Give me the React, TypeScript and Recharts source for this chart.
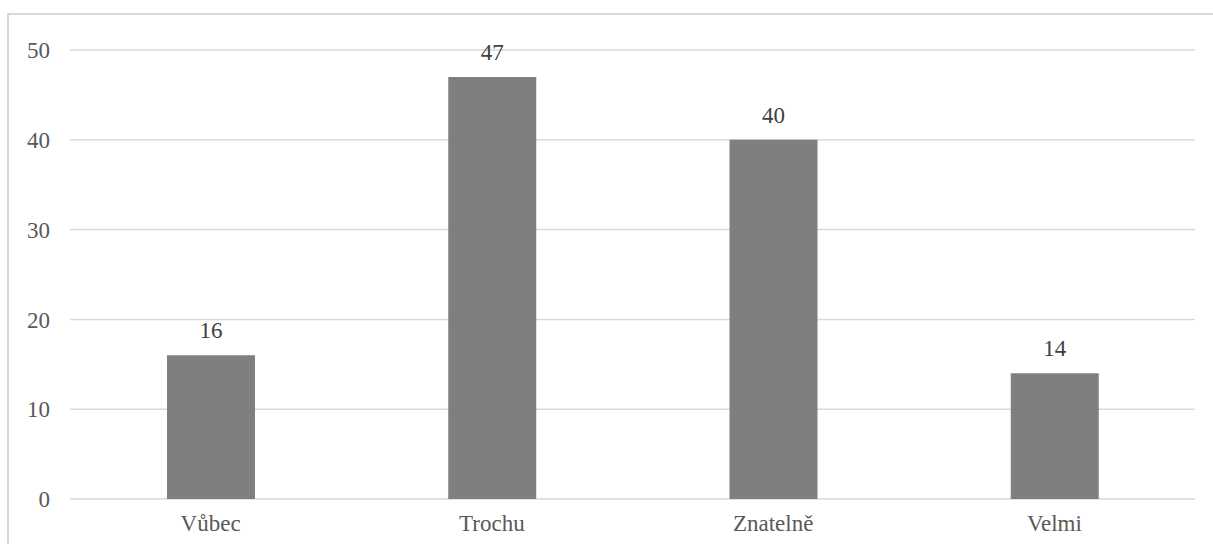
import React from 'react';
import { BarChart, Bar, XAxis, YAxis, CartesianGrid, LabelList } from 'recharts';

const categories = ['Vůbec', 'Trochu', 'Znatelně', 'Velmi'];
const counts = [16, 47, 40, 14];
const yTicks = [0, 10, 20, 30, 40, 50];

const data = categories.map((name, i) => ({ name, value: counts[i] }));

const FONT = 'Liberation Serif';

const App: React.FC = () => {
  return (
    <div style={{ position: 'absolute', left: 0, top: 0, width: 1213, height: 544, overflow: 'hidden', background: '#fff' }}>
      <BarChart width={1213} height={544} data={data} margin={{ top: 50, right: 18, bottom: 0, left: 10 }}>
        <CartesianGrid vertical={false} stroke="#d9d9d9" strokeWidth={1.5} />
        <XAxis
          dataKey="name"
          height={45}
          tickSize={0}
          tickMargin={16}
          axisLine={false}
          tickLine={false}
          tick={{ fill: '#595959', fontSize: 23, fontFamily: FONT }}
        />
        <YAxis
          width={60}
          domain={[0, 50]}
          ticks={yTicks}
          tickSize={0}
          tickMargin={20}
          axisLine={false}
          tickLine={false}
          tick={{ fill: '#595959', fontSize: 23, fontFamily: FONT }}
        />
        <Bar dataKey="value" fill="#7f7f7f" barSize={88} isAnimationActive={false}>
          <LabelList dataKey="value" position="top" offset={17} fill="#404040" fontSize={23} fontFamily={FONT} />
        </Bar>
      </BarChart>
      {/* light frame; only its top and left edges fall inside the picture */}
      <div
        style={{
          position: 'absolute',
          left: 7,
          top: 13,
          width: 1300,
          height: 700,
          borderLeft: '2px solid #d9d9d9',
          borderTop: '2px solid #d9d9d9',
          pointerEvents: 'none',
        }}
      />
    </div>
  );
};

export default App;
